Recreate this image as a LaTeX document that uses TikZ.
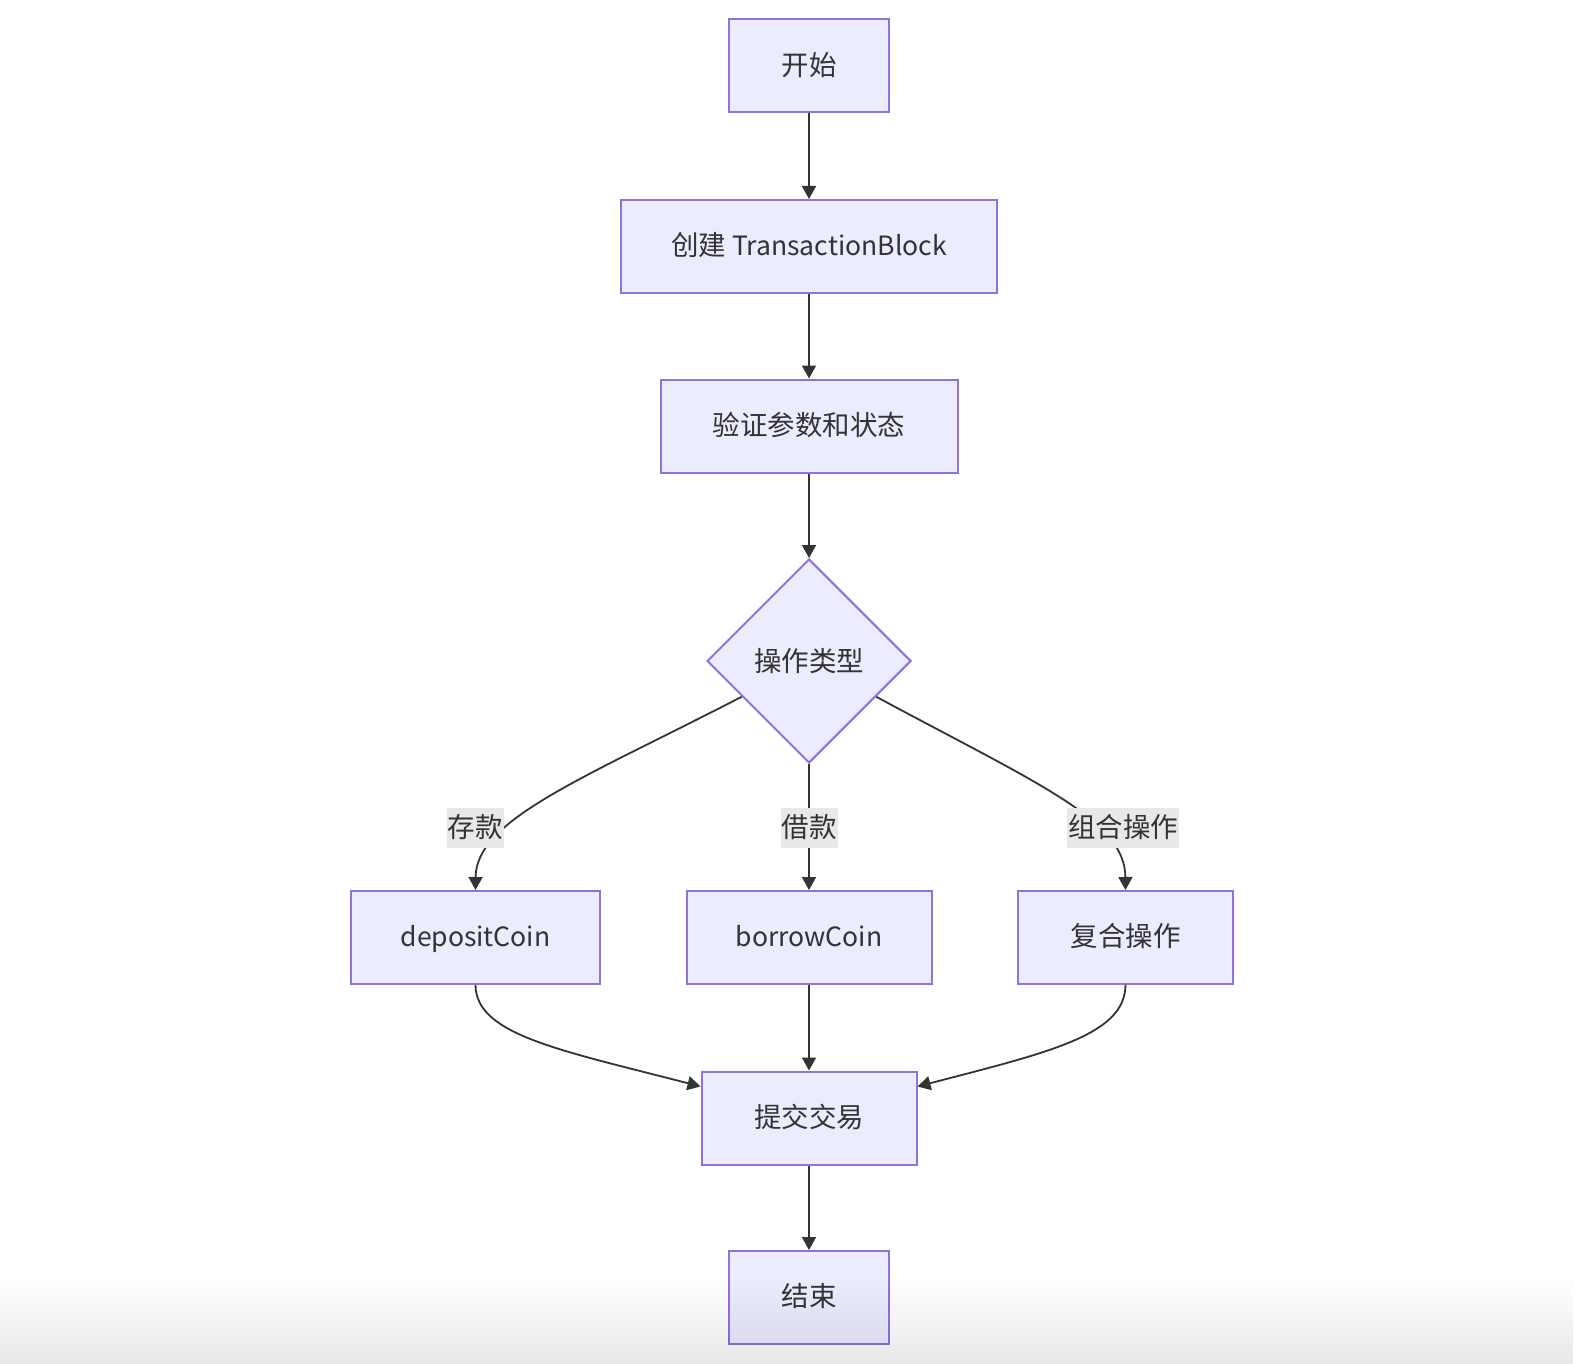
\documentclass[tikz,border=0pt]{standalone}
\usepackage{fontspec}
\setmainfont{Noto Sans CJK SC}
\newfontfamily\latinf{Noto Sans CJK SC}[Scale=0.965]
\usetikzlibrary{arrows.meta,shapes.geometric,calc,fadings}
\definecolor{nodefill}{HTML}{ECECFF}
\definecolor{nodeline}{HTML}{9370DB}
\definecolor{edgec}{HTML}{333333}
\definecolor{lblbg}{HTML}{E8E8E8}
\begin{document}
\begin{tikzpicture}[x=0.5pt,y=-0.5pt,
  txt/.style={text=edgec, font=\fontsize{13.75}{16}\selectfont, text height=0.97em, text depth=0.03em},
  box/.style={txt, draw=nodeline, fill=nodefill, line width=1pt, inner sep=0pt, minimum height=46.5pt},
  dec/.style={txt, draw=nodeline, fill=nodefill, line width=1pt, diamond, inner sep=0pt, minimum width=102pt, minimum height=102pt},
  lbl/.style={txt, fill=lblbg, inner xsep=0.5pt, inner ysep=0pt, minimum height=20pt},
  edge/.style={draw=edgec, line width=0.9pt, -{Triangle[length=6.5pt,width=7pt]}}
]
\useasboundingbox (0,0) rectangle (1574,1364);
\fill[white] (0,0) rectangle (1574,1364);

\node[box, minimum width=80pt] (start) at (809,66) {开始};
\node[box, minimum width=188pt] (create) at (809,246.5) {创建 {\latinf TransactionBlock}};
\node[box, minimum width=148.5pt] (verify) at (809,426) {验证参数和状态};
\node[dec, text height=, text depth=] (dia) at (809,661) {操作类型};
\node[box, minimum width=124.5pt] (dep) at (475.5,937.5) {\latinf depositCoin};
\node[box, minimum width=122.5pt] (bor) at (809,937.5) {\latinf borrowCoin};
\node[box, minimum width=107.5pt] (comp) at (1125.5,937.5) {复合操作};
\node[box, minimum width=107.5pt] (sub) at (809,1118) {提交交易};
\node[box, minimum width=80pt] (end) at (809,1297.5) {结束};

\draw[edge] (start.south) -- (create.north);
\draw[edge] (create.south) -- (verify.north);
\draw[edge] (verify.south) -- (dia.north);
\draw[edge] (dia.208) .. controls (580,780) and (476,820) .. (dep.north);
\draw[edge] (dia.south) -- (bor.north);
\draw[edge] (dia.332) .. controls (1040,785) and (1125,820) .. (comp.north);
\draw[edge] (dep.south) .. controls (476,1035) and (560,1050) .. ($(sub.north west)+(0,16)$);
\draw[edge] (bor.south) -- (sub.north);
\draw[edge] (comp.south) .. controls (1125,1035) and (1050,1052) .. ($(sub.north east)+(0,16)$);
\draw[edge] (sub.south) -- (end.north);

\node[lbl] (l1) at (475,828) {存款};
\node[lbl] (l2) at (809,828) {借款};
\node[lbl] (l3) at (1123,828) {组合操作};

\fill[black, opacity=0.09, path fading=north] (0,1280) rectangle (1574,1364);
\end{tikzpicture}
\end{document}
